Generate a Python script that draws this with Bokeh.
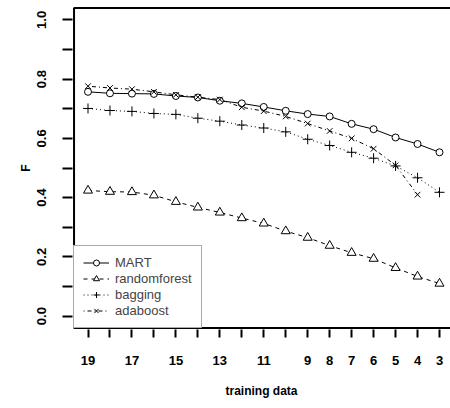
from bokeh.plotting import figure
from bokeh.models import FixedTicker, Range1d, Legend, LegendItem
from bokeh.embed import file_html
from bokeh.resources import INLINE

# ---- data ----
training_sizes = [19, 18, 17, 16, 15, 14, 13, 12, 11, 10, 9, 8, 7, 6, 5, 4, 3]
x_tick_labels = ["19", "", "17", "", "15", "", "13", "", "11", "", "9", "8", "7", "6", "5", "4", "3"]

mart = [0.757, 0.752, 0.751, 0.750, 0.743, 0.738, 0.727, 0.718, 0.706, 0.693, 0.682, 0.674,
        0.649, 0.631, 0.603, 0.581, 0.553]
randomforest = [0.424, 0.420, 0.419, 0.408, 0.386, 0.367, 0.350, 0.331, 0.313, 0.287, 0.265,
                0.238, 0.214, 0.194, 0.163, 0.134, 0.110]
bagging = [0.701, 0.694, 0.691, 0.684, 0.681, 0.668, 0.658, 0.645, 0.635, 0.622, 0.597, 0.576,
           0.553, 0.533, 0.507, 0.467, 0.418]
adaboost = [0.776, 0.770, 0.766, 0.757, 0.747, 0.739, 0.731, 0.705, 0.692, 0.674, 0.650, 0.625,
            0.600, 0.565, 0.509, 0.410]

y_ticks = [0.0, 0.1, 0.2, 0.3, 0.4, 0.5, 0.6, 0.7, 0.8, 0.9, 1.0]
y_tick_labels = ["0.0", "", "0.2", "", "0.4", "", "0.6", "", "0.8", "", "1.0"]

series_names = ["MART", "randomforest", "bagging", "adaboost"]

# ---- figure ----
FONT = "Liberation Sans"
positions = list(range(1, len(training_sizes) + 1))
X0, X1 = 0.364, 17.5      # box limits (x)
Y0, Y1 = -0.04, 1.04      # box limits (y)

p = figure(width=450, height=400, output_backend="svg", toolbar_location=None,
           x_range=Range1d(X0 - 0.07, X1), y_range=Range1d(Y0 - 0.005, Y1 + 0.005),
           min_border_left=72, min_border_right=0, min_border_top=6, min_border_bottom=61)
p.grid.visible = False
p.outline_line_color = None
p.background_fill_color = "white"
p.border_fill_color = "white"

for ax in (p.xaxis[0], p.yaxis[0]):
    ax.axis_line_color = None
    ax.major_tick_in = 0
    ax.minor_tick_line_color = None
    ax.major_tick_line_width = 2
    ax.major_label_text_font = FONT
    ax.major_label_text_font_style = "bold"
    ax.major_label_text_font_size = "13px"
    ax.major_label_text_color = "black"
    ax.axis_label_text_font = FONT
    ax.axis_label_text_font_style = "bold"
    ax.axis_label_text_font_size = "12px"
    ax.axis_label_text_color = "black"

p.xaxis.ticker = FixedTicker(ticks=positions)
p.xaxis.major_label_overrides = {pos: lab for pos, lab in zip(positions, x_tick_labels)}
p.xaxis.major_tick_out = 8
p.xaxis.major_label_standoff = 18
p.xaxis.axis_label = "training data"
p.xaxis.axis_label_standoff = 16

p.yaxis.ticker = FixedTicker(ticks=y_ticks)
p.yaxis.major_label_overrides = {t: lab for t, lab in zip(y_ticks, y_tick_labels)}
p.yaxis.major_label_orientation = "vertical"
p.yaxis.major_tick_out = 10
p.yaxis.major_label_standoff = 16
p.yaxis.axis_label = "F"
p.yaxis.axis_label_standoff = 2

# plot box (the right edge is cut off in the original)
p.quad(left=[X0], right=[X1 + 1], bottom=[Y0], top=[Y1],
       fill_color=None, line_color="black", line_width=2, level="overlay")

styles = [
    dict(dash="solid", marker="circle", size=7),
    dict(dash="4 4", marker="triangle", size=9),
    dict(dash="1 3", marker="cross", size=10),
    dict(dash="1 3 4 3", marker="x", size=8),
]
all_series = [mart, randomforest, bagging, adaboost]

items = []
for name, vals, st in zip(series_names, all_series, styles):
    xs = positions[:len(vals)]
    ln = p.line(xs, vals, line_color="black", line_width=1, line_dash=st["dash"])
    sc = p.scatter(xs, vals, marker=st["marker"], size=st["size"], line_color="black",
                   fill_color="white", line_width=1)
    items.append(LegendItem(label=name, renderers=[ln, sc]))

legend = Legend(items=items, location="bottom_left", margin=1, padding=9, spacing=1,
                glyph_width=26, glyph_height=15, label_height=15, label_standoff=6,
                label_text_font=FONT, label_text_font_size="13px",
                border_line_color="#555555", border_line_width=1,
                background_fill_color="white", background_fill_alpha=1.0)
p.add_layout(legend)

open("out.html", "w").write(file_html(p, INLINE))
